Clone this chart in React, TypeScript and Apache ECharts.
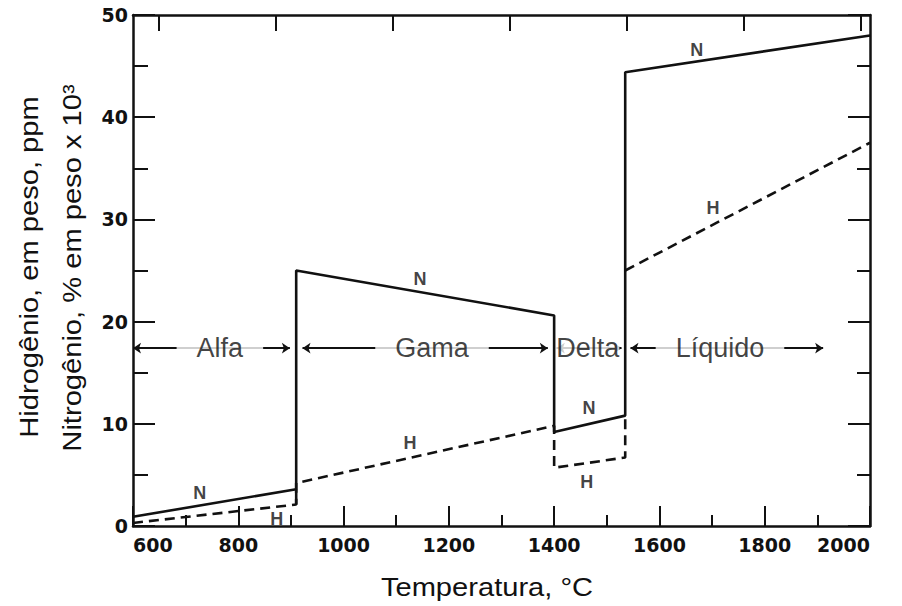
import React, { useEffect, useRef } from "react";
import * as echarts from "echarts";

// Bottom axis (°C) and left axis tick settings
const xMin = 600;
const xMax = 2000;
const xStep = 200;
const yMin = 0;
const yMax = 50;
const yStep = 10;
// Top axis in °F (same span as 600–2000 °C)
const fMin = 1112;
const fMax = 3632;
const fahrenheitTicks = [1200, 1600, 2000, 2400, 2800, 3200, 3600];

// Nitrogen solubility (% em peso x 10^3)
const nitrogen: [number, number][] = [
  [600, 0.9], [910, 3.6], [910, 25.0], [1400, 20.6],
  [1400, 9.2], [1535, 10.8], [1535, 44.4], [2000, 48.0],
];
// Hydrogen solubility (ppm), solid phases
const hydrogenSolid: [number, number][] = [
  [600, 0.3], [910, 2.1], [910, 4.2], [1400, 9.8],
  [1400, 5.7], [1535, 6.7], [1535, 10.8],
];
const hydrogenJump: [number, number][] = [[910, 2.1], [910, 3.6]];
// Hydrogen solubility, liquid
const hydrogenLiquid: [number, number][] = [[1535, 25.0], [2000, 37.5]];

// Curve letters
const curveLabelNames = ["N", "H", "N", "H", "N", "H", "N", "H"];
const curveLabelPos: [number, number][] = [
  [727, 3.2], [873, 0.7], [1145, 24.2], [1126, 8.1],
  [1466, 11.5], [1462, 4.3], [1671, 46.6], [1702, 31.1],
];

// Phase ranges
const phaseNames = ["Alfa", "Gama", "Delta", "Líquido"];
const phaseFrom = [600, 922, 1405, 1545];
const phaseTo = [898, 1388, 1528, 1911];
const phaseLabelX = [765, 1168, 1464, 1715];
const phaseGap = [20, 20, 0, 20];
const phaseLevel = 17.4;

const tickFont = { fontFamily: "DejaVu Sans", fontWeight: "bold" as const, fontSize: 19, color: "#111" };
const ink = "#111";

export default function App() {
  const ref = useRef<HTMLDivElement>(null);
  useEffect(() => {
    if (!ref.current) return;
    const chart = echarts.init(ref.current, undefined, { renderer: "svg" });
    const axisLine = { show: true, onZero: false, lineStyle: { color: ink, width: 2.5 } };
    const tickStyle = { color: ink, width: 2 };
    chart.setOption({
      animation: false,
      backgroundColor: "#ffffff",
      grid: { left: 133, right: 32, top: 15, bottom: 80 },
      xAxis: [
        {
          type: "value", position: "bottom", min: xMin, max: xMax, interval: xStep,
          axisLine,
          axisTick: { show: true, inside: true, length: 20, lineStyle: tickStyle },
          minorTick: { show: true, splitNumber: 2, length: 11, lineStyle: tickStyle },
          axisLabel: {
            ...tickFont, margin: 9, alignMinLabel: "left", alignMaxLabel: "right",
            formatter: (v: number) => String(v),
          },
          splitLine: { show: false },
        },
        {
          type: "value", position: "top", min: fMin, max: fMax,
          axisLine,
          axisTick: { show: true, inside: true, length: 16, customValues: fahrenheitTicks, lineStyle: tickStyle },
          axisLabel: { show: false },
          splitLine: { show: false },
        },
      ],
      yAxis: [
        {
          type: "value", position: "left", min: yMin, max: yMax, interval: yStep,
          axisLine,
          axisTick: { show: true, inside: true, length: 22, lineStyle: tickStyle },
          minorTick: { show: true, splitNumber: 2, length: 15, lineStyle: tickStyle },
          axisLabel: { ...tickFont, margin: 5, formatter: (v: number) => String(v) },
          splitLine: { show: false },
        },
        {
          type: "value", position: "right", min: yMin, max: yMax, interval: yStep,
          axisLine,
          axisTick: { show: true, inside: true, length: 22, lineStyle: tickStyle },
          minorTick: { show: true, splitNumber: 2, length: 13, lineStyle: tickStyle },
          axisLabel: { show: false },
          splitLine: { show: false },
        },
      ],
      series: [
        {
          name: "N", type: "line", data: nitrogen, symbol: "none", z: 3,
          lineStyle: { color: ink, width: 2.6 },
        },
        {
          name: "H", type: "line", data: hydrogenSolid, symbol: "none", z: 3,
          lineStyle: { color: ink, width: 2.6, type: [10, 6] },
        },
        {
          name: "H jump", type: "line", data: hydrogenJump, symbol: "none", z: 3,
          lineStyle: { color: ink, width: 2.6 },
        },
        {
          name: "H liquid", type: "line", data: hydrogenLiquid, symbol: "none", z: 3,
          lineStyle: { color: ink, width: 2.6, type: [10, 6] },
        },
        {
          name: "curve labels", type: "scatter", symbolSize: 0, z: 4, silent: true,
          itemStyle: { color: "#ffffff" },
          data: curveLabelNames.map((n, i) => ({ name: n, value: curveLabelPos[i] })),
          label: {
            show: true, position: "inside", formatter: "{b}",
            fontFamily: "Liberation Sans", fontWeight: "bold", fontSize: 18, color: ink,
            textBorderWidth: 0, textBorderColor: "transparent",
          },
        },
        {
          name: "phase arrows", type: "scatter", data: [], z: 5, silent: true,
          markLine: {
            silent: true, symbol: ["arrow", "arrow"], symbolSize: 8,
            lineStyle: { color: ink, width: 1.8, type: "solid" },
            itemStyle: { color: ink },
            label: { show: false },
            data: phaseNames.map((_, i) => [
              { coord: [phaseFrom[i], phaseLevel] },
              { coord: [phaseTo[i], phaseLevel] },
            ]),
          },
        },
        {
          name: "phase labels", type: "scatter", symbolSize: 0, z: 10, silent: true,
          itemStyle: { color: "#ffffff" },
          data: phaseNames.map((n, i) => ({
            name: n, value: [phaseLabelX[i], phaseLevel],
            label: { padding: [0, phaseGap[i]] },
          })),
          label: {
            show: true, position: "inside", formatter: "{b}",
            fontFamily: "Liberation Sans", fontSize: 27, color: ink,
            backgroundColor: "#ffffff", textBorderWidth: 0, textBorderColor: "transparent",
          },
        },
      ],
      graphic: [
        {
          type: "text", x: 487, y: 587, scaleX: 1.12,
          style: {
            text: "Temperatura, °C", font: '26px "Liberation Sans"', fill: ink,
            align: "center", verticalAlign: "middle",
          },
        },
        {
          type: "text", x: 29, y: 267, rotation: Math.PI / 2, scaleX: 1.12,
          style: {
            text: "Hidrogênio, em peso, ppm", font: '26px "Liberation Sans"', fill: ink,
            align: "center", verticalAlign: "middle",
          },
        },
        {
          type: "text", x: 72, y: 268, rotation: Math.PI / 2, scaleX: 1.12,
          style: {
            text: "Nitrogênio, % em peso x 10³", font: '26px "Liberation Sans"', fill: ink,
            align: "center", verticalAlign: "middle",
          },
        },
      ],
    });
    return () => chart.dispose();
  }, []);
  return (
    <div
      ref={ref}
      style={{ position: "fixed", left: 0, top: 0, width: 902, height: 606, background: "#fff" }}
    />
  );
}
